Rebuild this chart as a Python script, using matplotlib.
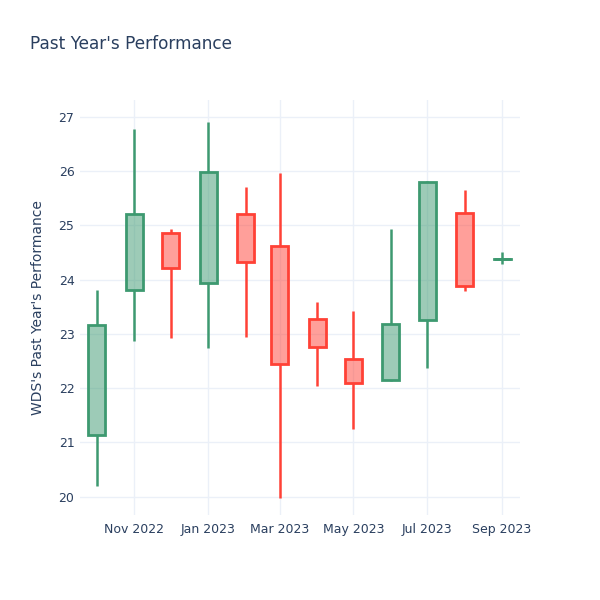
import numpy as np
import matplotlib.pyplot as plt
import matplotlib.dates as mdates
from matplotlib.patches import Rectangle
import datetime as dt

# monthly OHLC
months = ["2022-10-01", "2022-11-01", "2022-12-01", "2023-01-01", "2023-02-01", "2023-03-01",
          "2023-04-01", "2023-05-01", "2023-06-01", "2023-07-01", "2023-08-01", "2023-09-01"]
open_ = [21.14, 23.81, 24.86, 23.94, 25.20, 24.62, 23.27, 22.54, 22.14, 23.26, 25.22, 24.37]
high = [23.81, 26.77, 24.94, 26.91, 25.71, 25.96, 23.58, 23.42, 24.94, 25.82, 25.65, 24.51]
low = [20.19, 22.87, 22.92, 22.73, 22.94, 19.97, 22.03, 21.24, 22.13, 22.37, 23.79, 24.28]
close = [23.16, 25.21, 24.21, 25.98, 24.33, 22.44, 22.76, 22.09, 23.19, 25.79, 23.89, 24.38]

tick_dates = ["2022-11-01", "2023-01-01", "2023-03-01", "2023-05-01", "2023-07-01", "2023-09-01"]

INC = "#3D9970"
DEC = "#FF4136"
TXT = "#2a3f5f"
GRID = "#EBF0F8"

fig = plt.figure(figsize=(6, 6), dpi=100)
ax = fig.add_axes([80 / 600, 1 - 515 / 600, 440 / 600, 415 / 600])

x = mdates.date2num([dt.datetime.fromisoformat(m) for m in months])
half = 7.0

for xi, o, h, l, c in zip(x, open_, high, low, close):
    col = INC if c >= o else DEC
    lo_b, hi_b = min(o, c), max(o, c)
    ax.plot([xi, xi], [l, lo_b], color=col, lw=1.8, solid_capstyle="butt", zorder=3)
    ax.plot([xi, xi], [hi_b, h], color=col, lw=1.8, solid_capstyle="butt", zorder=3)
    ax.add_patch(Rectangle((xi - half, lo_b), 2 * half, hi_b - lo_b,
                           facecolor=col, alpha=0.5, edgecolor="none", zorder=3))
    ax.add_patch(Rectangle((xi - half, lo_b), 2 * half, hi_b - lo_b,
                           facecolor="none", edgecolor=col, lw=2, zorder=4))
    if hi_b - lo_b < 0.05:
        ax.plot([xi - half, xi + half], [lo_b, lo_b], color=col, lw=2, zorder=4)

ax.set_xlim(x[0] - 14, x[-1] + 14.8)
ax.set_ylim(19.66, 27.31)

ticks = mdates.date2num([dt.datetime.fromisoformat(t) for t in tick_dates])
ax.set_xticks(ticks)
ax.xaxis.set_major_formatter(mdates.DateFormatter("%b %Y"))
ax.set_yticks(np.arange(20, 28, 1))

ax.grid(True, color=GRID, lw=1, zorder=0)
ax.set_axisbelow(True)
for s in ax.spines.values():
    s.set_visible(False)
ax.tick_params(length=0, labelsize=9, colors=TXT, pad=6)
ax.tick_params(axis="y", pad=4)

ax.set_ylabel("WDS's Past Year's Performance", color=TXT, fontsize=10, labelpad=10)
fig.text(30 / 600, 1 - 44 / 600, "Past Year's Performance", color=TXT, fontsize=12.2,
         va="center", ha="left")

fig.savefig("out.png", dpi=100, facecolor="white")
